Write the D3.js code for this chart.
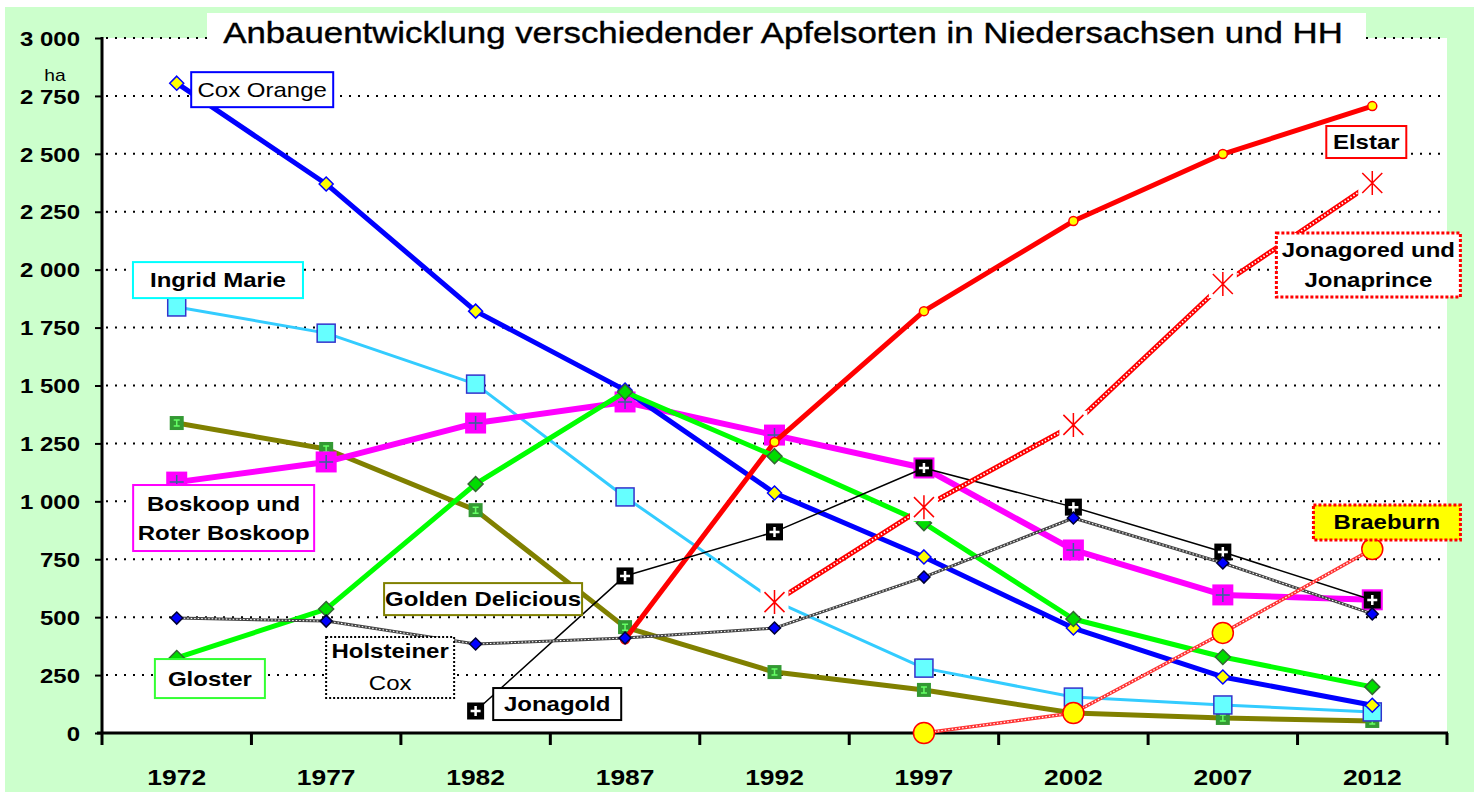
<!DOCTYPE html>
<html>
<head>
<meta charset="utf-8">
<script src="https://cdn.jsdelivr.net/npm/d3@7"></script>
<style>
  body { margin: 0; background: #fff; }
  svg { display: block; }
  text { font-family: "Liberation Sans", Arial, sans-serif; fill: #000; }
</style>
</head>
<body>
<div id="chart"></div>
<script>
// Anbauflächen (ha) je Apfelsorte, Niedersachsen und HH
const years = [1972, 1977, 1982, 1987, 1992, 1997, 2002, 2007, 2012];
const yTicks = [0, 250, 500, 750, 1000, 1250, 1500, 1750, 2000, 2250, 2500, 2750, 3000];

const coxOrange       = [2805, 2370, 1821, 1480, 1036, 760, 453, 242, 120];
const elstar          = [null, null, null, 405, 1256, 1821, 2210, 2499, 2706];
const jonagored       = [null, null, null, null, 565, 975, 1330, 1938, 2374];
const ingridMarie     = [1839, 1726, 1506, 1019, 570, 280, 155, 121, 91];
const boskoop         = [1083, 1170, 1338, 1429, 1286, 1144, 790, 596, 575];
const gloster         = [324, 535, 1075, 1472, 1195, 906, 492, 328, 199];
const goldenDelicious = [1338, 1226, 962, 457, 263, 186, 86, 65, 52];
const holsteinerCox   = [496, 483, 384, 410, 453, 673, 928, 734, 514];
const jonagold        = [null, null, 95, 678, 868, 1144, 975, 781, 574];
const braeburn        = [null, null, null, null, null, 0, 86, 432, 794];

const width = 1474;
const height = 792;
const SX = 1.2; // the original glyphs are stretched horizontally
const plot = { left: 102, right: 1447, top: 38, bottom: 733 };

const svg = d3.select("#chart")
  .append("svg")
  .attr("width", width)
  .attr("height", height);

// backgrounds
svg.append("rect")
  .attr("x", 5).attr("y", 7)
  .attr("width", width - 5).attr("height", height - 7)
  .attr("fill", "#ccffcc");

svg.append("rect")
  .attr("x", plot.left).attr("y", plot.top)
  .attr("width", plot.right - plot.left).attr("height", plot.bottom - plot.top)
  .attr("fill", "#fff");

// scales
const x = d3.scaleBand().domain(years).range([plot.left, plot.right]);
const xc = d => x(d) + x.bandwidth() / 2;
const xl = d3.scaleLinear().domain([1972, 2012]).range([xc(1972), xc(2012)]);
const y = d3.scaleLinear().domain([0, 3000]).range([plot.bottom, plot.top]);

const fmt = d3.formatLocale({ decimal: ",", thousands: " ", grouping: [3], currency: ["", ""] }).format(",");

function addText(g, px, py, str, size, weight, anchor) {
  return g.append("text")
    .attr("transform", `translate(${px},${py}) scale(${SX},1)`)
    .attr("text-anchor", anchor || "middle")
    .style("font-size", size + "px")
    .style("font-weight", weight || "normal")
    .text(str);
}

// gridlines
svg.append("g")
  .selectAll("line")
  .data(yTicks.filter(d => d > 0))
  .join("line")
  .attr("x1", plot.left + 4).attr("x2", plot.right - 4)
  .attr("y1", d => y(d)).attr("y2", d => y(d))
  .attr("stroke", "#000")
  .attr("stroke-width", 2)
  .attr("stroke-dasharray", "2,7");

// title box
svg.append("rect")
  .attr("x", 207).attr("y", 13)
  .attr("width", 1159).attr("height", 39)
  .attr("fill", "#fff");
addText(svg, 783, 43, "Anbauentwicklung verschiedender Apfelsorten in Niedersachsen und HH", 29, "normal")
  .style("stroke", "#000").style("stroke-width", 0.4);

// y axis
const yAxis = svg.append("g")
  .attr("transform", `translate(${plot.left},0)`)
  .call(d3.axisLeft(y).tickValues(yTicks).tickSize(7).tickFormat(fmt));
yAxis.select(".domain").remove();
yAxis.selectAll(".tick line").attr("stroke", "#000").attr("stroke-width", 2);
yAxis.selectAll(".tick text")
  .attr("x", -22 / SX)
  .attr("dy", "0.36em")
  .attr("transform", `scale(${SX},1)`)
  .style("font-size", "20px")
  .style("font-weight", "bold")
  .style("font-family", "'Liberation Sans', Arial, sans-serif");
svg.append("line")
  .attr("x1", plot.left).attr("x2", plot.left)
  .attr("y1", plot.top - 1).attr("y2", plot.bottom)
  .attr("stroke", "#000").attr("stroke-width", 3);
addText(svg, 55, 81, "ha", 16, "normal");

// x axis
svg.append("line")
  .attr("x1", plot.left - 5).attr("x2", plot.right + 1)
  .attr("y1", plot.bottom).attr("y2", plot.bottom)
  .attr("stroke", "#000").attr("stroke-width", 3);
svg.append("g")
  .selectAll("line")
  .data(years.map(d => x(d)).concat([plot.right]))
  .join("line")
  .attr("x1", d => d).attr("x2", d => d)
  .attr("y1", plot.bottom).attr("y2", plot.bottom + 12)
  .attr("stroke", "#000").attr("stroke-width", 3);
const xLabels = svg.append("g");
years.forEach(yr => addText(xLabels, xc(yr), 785, String(yr), 22, "bold"));

// series
const series = [
  { name: "Golden Delicious", values: goldenDelicious, color: "#808000", w: 5, marker: "golden" },
  { name: "Ingrid Marie", values: ingridMarie, color: "#33ccff", w: 3, marker: "ingrid" },
  { name: "Boskoop", values: boskoop, color: "#ff00ff", w: 6, marker: "boskoop" },
  { name: "Cox Orange", values: coxOrange, color: "#0000ff", w: 5, marker: "cox" },
  { name: "Elstar", values: elstar, color: "#ff0000", w: 5, marker: "elstar" },
  { name: "Gloster", values: gloster, color: "#00ff00", w: 5, marker: "gloster" },
  { name: "Jonagold", values: jonagold, color: "#000", w: 1.5, marker: "jonagold" },
  { name: "Holsteiner Cox", values: holsteinerCox, color: "#444", w: 3, hatch: true, marker: "holsteiner" },
  { name: "Jonagored", values: jonagored, color: "#ff0000", w: 5, hatch: true, marker: "jonagored" },
  { name: "Braeburn", values: braeburn, color: "#ff3333", w: 3.5, hatch: true, marker: "braeburn" }
];

const line = d3.line()
  .defined(d => d.v != null)
  .x(d => xc(d.year))
  .y(d => y(d.v));

function diamond(g, r, fill, stroke) {
  g.append("path")
    .attr("d", `M0,${-r}L${r},0L0,${r}L${-r},0Z`)
    .attr("fill", fill).attr("stroke", stroke).attr("stroke-width", 1.5);
}
function square(g, s, fill, stroke) {
  g.append("rect")
    .attr("x", -s / 2).attr("y", -s / 2).attr("width", s).attr("height", s)
    .attr("fill", fill).attr("stroke", stroke || "none").attr("stroke-width", 1.5);
}
function plus(g, a, color, sw) {
  g.append("path")
    .attr("d", `M${-a},0H${a}M0,${-a}V${a}`)
    .attr("stroke", color).attr("stroke-width", sw);
}

const markerDraw = {
  cox: g => diamond(g, 7, "#ffff00", "#0000ff"),
  elstar: g => g.append("circle").attr("r", 4.5).attr("fill", "#ffff00").attr("stroke", "#ff0000").attr("stroke-width", 1.5),
  ingrid: g => square(g, 18, "#66ffff", "#3333cc"),
  boskoop: g => { square(g, 21, "#ff00ff"); plus(g, 7, "#336699", 1.5); },
  gloster: g => diamond(g, 7.5, "#00dd00", "#336633"),
  golden: g => {
    square(g, 14, "#339933");
    g.append("path").attr("d", "M-3,-3H3M0,-3V3M-3,3H3").attr("stroke", "#66ff66").attr("stroke-width", 1.5);
  },
  holsteiner: g => diamond(g, 6, "#0000ff", "#000033"),
  jonagold: g => { square(g, 17, "#000"); plus(g, 5, "#fff", 2.5); },
  jonagored: g => {
    square(g, 28, "#fff");
    g.append("path")
      .attr("d", "M0,-12V12M-10,-10L10,10M-10,10L10,-10")
      .attr("stroke", "#ff0000").attr("stroke-width", 1.5);
  },
  braeburn: g => g.append("circle").attr("r", 10.5).attr("fill", "#ffff00").attr("stroke", "#ff0000").attr("stroke-width", 1.5)
};

series.forEach(s => {
  const pts = years.map((yr, i) => ({ year: yr, v: s.values[i] }));
  const g = svg.append("g").attr("class", "series");
  g.append("path")
    .attr("d", line(pts))
    .attr("fill", "none")
    .attr("stroke", s.color)
    .attr("stroke-width", s.w)
    .attr("stroke-linejoin", "round");
  if (s.hatch) {
    g.append("path")
      .attr("d", line(pts))
      .attr("fill", "none")
      .attr("stroke", "#fff")
      .attr("stroke-width", s.w * 0.35)
      .attr("stroke-dasharray", "1.5,2");
  }
  g.selectAll("g.m")
    .data(pts.filter(d => d.v != null))
    .join("g")
    .attr("class", "m")
    .attr("transform", d => `translate(${xc(d.year)},${y(d.v)})`)
    .each(function () { markerDraw[s.marker](d3.select(this)); });
});

// series labels (positions in data units: year, ha)
const labels = [
  { lines: ["Cox Orange"], year: 1974.86, value: 2777, w: 142, h: 35, stroke: "#0000ff", bold: [false] },
  { lines: ["Ingrid Marie"], year: 1973.38, value: 1955, w: 170, h: 36, stroke: "#00ffff" },
  { lines: ["Boskoop und", "Roter Boskoop"], year: 1973.57, value: 928, w: 181, h: 66, stroke: "#ff00ff", gap: 29 },
  { lines: ["Golden Delicious"], year: 1982.25, value: 578, w: 198, h: 32, stroke: "#808000" },
  { lines: ["Gloster"], year: 1973.11, value: 235, w: 110, h: 39, stroke: "#33ff33" },
  { lines: ["Holsteiner", "Cox"], year: 1979.14, value: 283, w: 128, h: 61, stroke: "#000", dash: "2,2", gap: 32, bold: [true, false] },
  { lines: ["Jonagold"], year: 1984.73, value: 125, w: 128, h: 32, stroke: "#000" },
  { lines: ["Elstar"], year: 2011.8, value: 2551, w: 80, h: 32, stroke: "#ff0000" },
  { lines: ["Jonagored und", "Jonaprince"], year: 2011.87, value: 2020, w: 184, h: 64, stroke: "#ff0000", dash: "3,2", sw: 3, gap: 30 },
  { lines: ["Braeburn"], year: 2012.49, value: 909, w: 147, h: 35, stroke: "#ff0000", dash: "3,2", sw: 3, fill: "#ffff00" }
];

const lab = svg.append("g");
labels.forEach(l => {
  const cx = xl(l.year);
  const cy = y(l.value);
  lab.append("rect")
    .attr("x", cx - l.w / 2).attr("y", cy - l.h / 2)
    .attr("width", l.w).attr("height", l.h)
    .attr("fill", l.fill || "#fff")
    .attr("stroke", l.stroke)
    .attr("stroke-width", l.sw || 2)
    .attr("stroke-dasharray", l.dash || null);
  const gap = l.gap || 0;
  l.lines.forEach((t, i) => {
    const ty = cy + (i - (l.lines.length - 1) / 2) * gap + 7;
    const bold = l.bold ? l.bold[i] : true;
    addText(lab, cx, ty, t, 20, bold ? "bold" : "normal");
  });
});
</script>
</body>
</html>
